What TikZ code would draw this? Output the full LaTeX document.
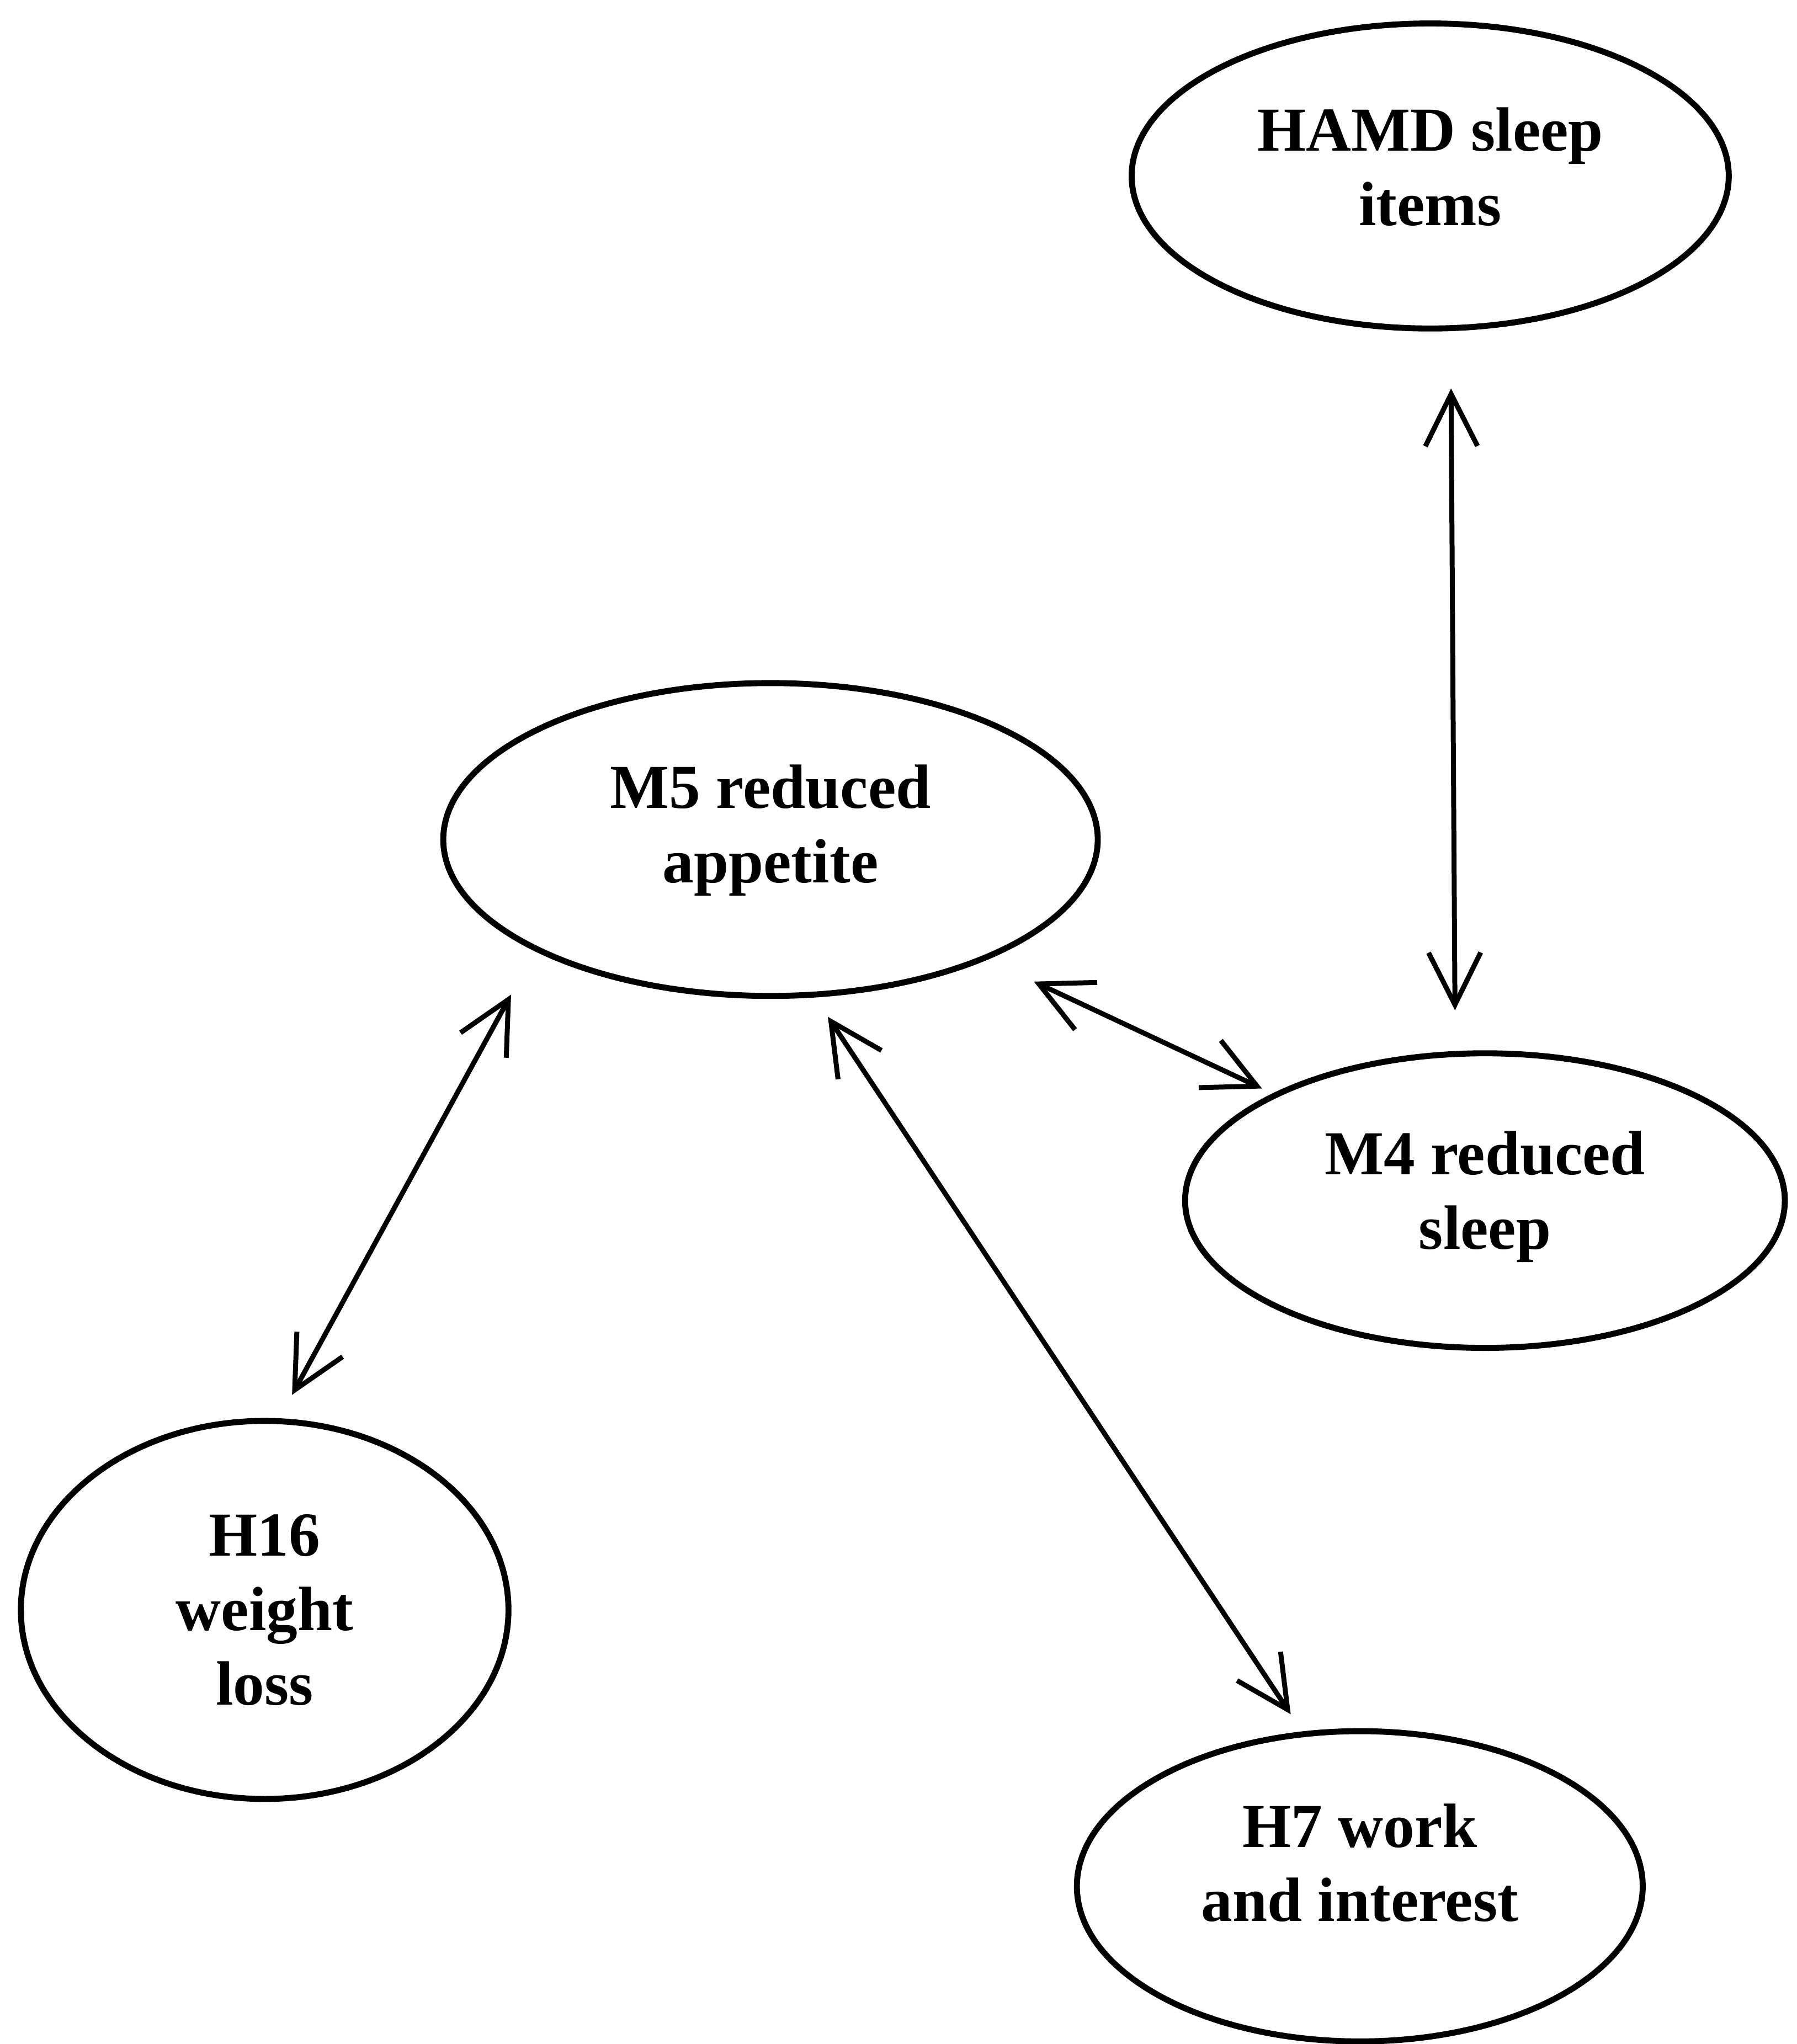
\documentclass[tikz,border=0pt]{standalone}
\usepackage{fontspec}
\setmainfont{Liberation Serif}
\usetikzlibrary{shapes.geometric,arrows.meta}
\tikzset{
  ell/.style={ellipse, draw, line width=2.3pt, inner sep=0pt},
  txt/.style={font=\fontsize{24pt}{28.5pt}\selectfont\bfseries, align=center},
  biarrow/.style={line width=1.9pt,
    {Straight Barb[length=20pt,width=20pt]}-{Straight Barb[length=20pt,width=20pt]}}
}
\begin{document}
\begin{tikzpicture}[x=0.5pt,y=-0.5pt]
\useasboundingbox (0,0) rectangle (1378,1568);
% ellipses
\node[ell, minimum width=229pt, minimum height=117pt,
  label={[txt,yshift=3.5pt]center:HAMD sleep\\items}] (hamd) at (1097,135) {};
\node[ell, minimum width=251pt, minimum height=120pt,
  label={[txt,yshift=3.5pt]center:M5 reduced\\appetite}] (m5) at (591,644) {};
\node[ell, minimum width=230pt, minimum height=113pt,
  label={[txt,yshift=1.5pt]center:M4 reduced\\sleep}] (m4) at (1139,921) {};
\node[ell, minimum width=187pt, minimum height=145pt,
  label={[txt]center:H16\\weight\\loss}] (h16) at (203,1235) {};
\node[ell, minimum width=217pt, minimum height=119pt,
  label={[txt,yshift=9pt]center:H7 work\\and interest}] (h7) at (1043,1447) {};
% connector end points
\coordinate (a1) at (1113,298);
\coordinate (a2) at (1116,775);
\coordinate (b1) at (793,753);
\coordinate (b2) at (968,835);
\coordinate (c1) at (392,763);
\coordinate (c2) at (224,1070);
\coordinate (d1) at (635,780);
\coordinate (d2) at (990,1315);
% connectors
\draw[biarrow] (a1) -- (a2);
\draw[biarrow] (b1) -- (b2);
\draw[biarrow] (c1) -- (c2);
\draw[biarrow] (d1) -- (d2);
\end{tikzpicture}
\end{document}
